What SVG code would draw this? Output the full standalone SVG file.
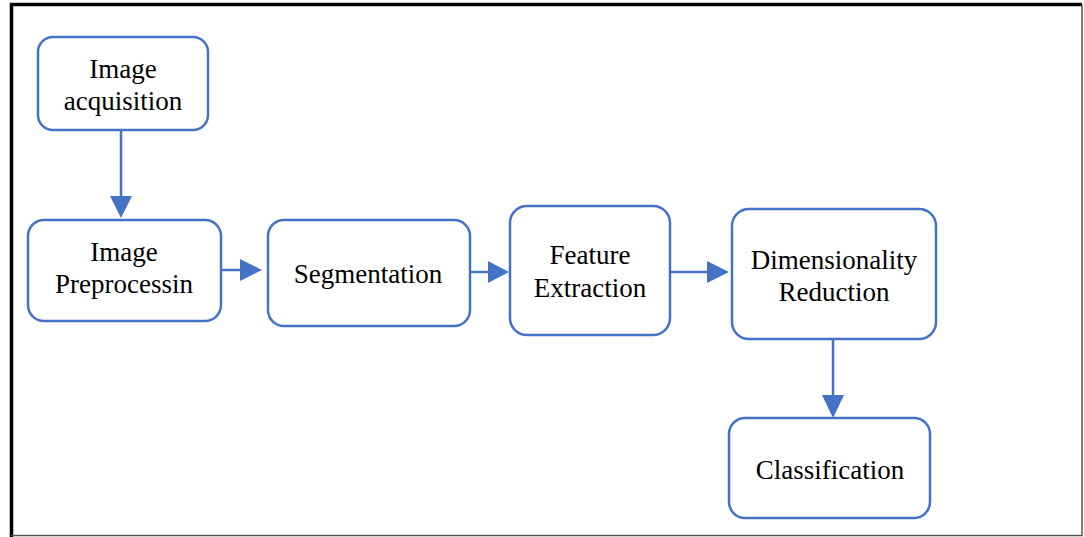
<svg xmlns="http://www.w3.org/2000/svg" width="1084" height="537" viewBox="0 0 1084 537">
<style>
.box{fill:#fff;stroke:#4472C4;stroke-width:2.5}
.lbl{font-family:"Liberation Serif","Times New Roman",serif;font-size:27px;fill:#000;text-anchor:middle}
.con{stroke:#4472C4;stroke-width:2.5;fill:none}
.head{fill:#4472C4}
</style>
<rect x="0" y="0" width="1084" height="537" fill="#fff"/>
<g id="frame">
<path d="M11.5 537 V4.5 H1082" fill="none" stroke="#000" stroke-width="3.5"/>
<path d="M1082 4.5 V535.5 H11.5" fill="none" stroke="#555" stroke-width="1.5"/>
</g>
<g id="connectors">
<line class="con" x1="121" y1="130" x2="121" y2="198"/>
<polygon class="head" points="110,196 132,196 121,218"/>
<line class="con" x1="222" y1="270" x2="242" y2="270"/>
<polygon class="head" points="240,259 240,281 262,270"/>
<line class="con" x1="470" y1="272" x2="490" y2="272"/>
<polygon class="head" points="488,261 488,283 509,272"/>
<line class="con" x1="671" y1="272" x2="709" y2="272"/>
<polygon class="head" points="707,261 707,283 729,272"/>
<line class="con" x1="833" y1="339" x2="833" y2="397"/>
<polygon class="head" points="822,395 844,395 833,418"/>
</g>
<g id="n1">
<rect class="box" x="38" y="37" width="170" height="93" rx="15"/>
<text class="lbl" x="123" y="78">Image</text>
<text class="lbl" x="123" y="110">acquisition</text>
</g>
<g id="n2">
<rect class="box" x="28" y="220" width="193" height="101" rx="16"/>
<text class="lbl" x="124" y="261">Image</text>
<text class="lbl" x="124" y="293">Preprocessin</text>
</g>
<g id="n3">
<rect class="box" x="268" y="220" width="202" height="106" rx="16"/>
<text class="lbl" x="368" y="283">Segmentation</text>
</g>
<g id="n4">
<rect class="box" x="510" y="206" width="160" height="129" rx="17"/>
<text class="lbl" x="590" y="264">Feature</text>
<text class="lbl" x="590" y="297">Extraction</text>
</g>
<g id="n5">
<rect class="box" x="732" y="209" width="204" height="130" rx="17"/>
<text class="lbl" x="834" y="269">Dimensionality</text>
<text class="lbl" x="834" y="301">Reduction</text>
</g>
<g id="n6">
<rect class="box" x="729" y="418" width="201" height="100" rx="16"/>
<text class="lbl" x="830" y="479">Classification</text>
</g>
</svg>
